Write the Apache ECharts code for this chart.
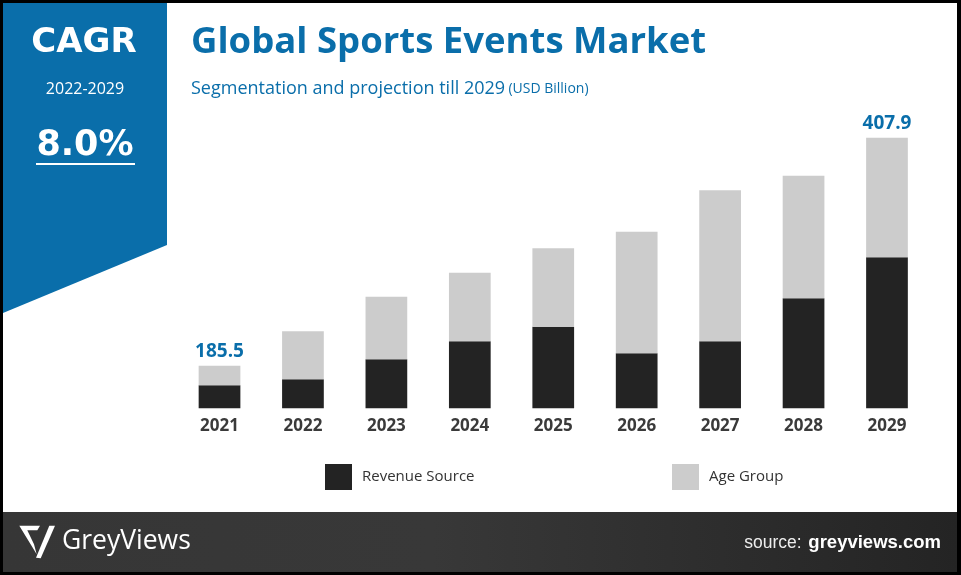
<!DOCTYPE html>
<html>
<head>
<meta charset="utf-8">
<script src="https://cdn.jsdelivr.net/npm/echarts@6/dist/echarts.min.js"></script>
<style>
html,body{margin:0;padding:0;background:#fff;}
#chart{width:961px;height:575px;}
</style>
</head>
<body>
<div id="chart"></div>
<script>
// ---- data ----
const years = ['2021','2022','2023','2024','2025','2026','2027','2028','2029'];
const revenueSource = [166.4, 172.3, 191.8, 209.4, 223.6, 197.6, 209.4, 251.3, 291.3];
const ageGroup      = [19.1, 46.8, 61.1, 66.9, 76.5, 118.6, 147.3, 119.6, 116.6];
const labelledYears = ['2021', '2029'];
const seriesNames = ['Revenue Source', 'Age Group'];
const cagrPeriod = '2022-2029';
const cagrValue = '8.0%';

const BLUE = '#0a6eaa';
const chart = echarts.init(document.getElementById('chart'));

const ageData = ageGroup.map((v, i) =>
  labelledYears.includes(years[i]) ? { value: v, label: { show: true } } : v
);

const logoA = [[19.3,525.7],[40,525.7],[37.3,530.3],[27.3,530.3],[34,544.3],[36.7,554.3]];
const logoB = [[49.3,525.7],[55,525.7],[40.7,558.3],[36,557.7]];

const legendText = { fontFamily: 'Open Sans', fontSize: 15, color: '#333', padding: [2,0,0,5] };

chart.setOption({
  backgroundColor: '#ffffff',
  animation: false,
  grid: { left: 177.8, right: 32.3, top: 125.3, bottom: 166.7 },
  xAxis: {
    type: 'category',
    data: years,
    axisLine: { show: false },
    axisTick: { show: false },
    axisLabel: {
      margin: 9,
      fontFamily: 'Open Sans',
      fontWeight: 'bold',
      fontSize: 17,
      color: '#3a3a3a'
    }
  },
  yAxis: {
    type: 'value',
    min: 144,
    max: 420,
    show: false,
    splitLine: { show: false }
  },
  legend: [
    {
      data: [seriesNames[0]],
      left: 325, top: 464, padding: 0,
      itemWidth: 27, itemHeight: 26,
      icon: 'rect',
      textStyle: legendText
    },
    {
      data: [seriesNames[1]],
      left: 672, top: 464, padding: 0,
      itemWidth: 27, itemHeight: 26,
      icon: 'rect',
      textStyle: legendText
    }
  ],
  series: [
    {
      name: seriesNames[0],
      type: 'bar',
      stack: 'total',
      barWidth: '50%',
      data: revenueSource,
      itemStyle: { color: '#232323' }
    },
    {
      name: seriesNames[1],
      type: 'bar',
      stack: 'total',
      barWidth: '50%',
      data: ageData,
      itemStyle: { color: '#cccccc' },
      label: {
        show: false,
        position: 'top',
        distance: 5,
        fontFamily: 'Open Sans',
        fontWeight: 'bold',
        fontSize: 19,
        color: BLUE,
        formatter: p => (revenueSource[p.dataIndex] + ageGroup[p.dataIndex]).toFixed(1)
      }
    }
  ],
  graphic: [
    // blue CAGR panel
    { type: 'polygon', shape: { points: [[3,3],[167,3],[167,245],[3,313]] }, style: { fill: BLUE }, z: 1 },
    { type: 'text', x: 84, y: 43, style: { text: 'CAGR', fill: '#fff', font: 'bold 34px "DejaVu Sans"', textAlign: 'center', textVerticalAlign: 'middle' }, z: 2 },
    { type: 'text', x: 85, y: 89, style: { text: cagrPeriod, fill: '#fff', font: '16px "Open Sans"', textAlign: 'center', textVerticalAlign: 'middle' }, z: 2 },
    { type: 'text', x: 85, y: 146, style: { text: cagrValue, fill: '#fff', font: 'bold 35px "DejaVu Sans"', textAlign: 'center', textVerticalAlign: 'middle' }, z: 2 },
    { type: 'rect', shape: { x: 36, y: 163, width: 99, height: 2 }, style: { fill: '#fff' }, z: 2 },
    // titles
    { type: 'text', x: 191, y: 43, style: { text: 'Global Sports Events Market', fill: BLUE, font: 'bold 36.5px "Open Sans"', textVerticalAlign: 'middle' }, z: 2 },
    { type: 'text', x: 191, y: 89, style: {
        text: '{a|Segmentation and projection till 2029} {b|(USD Billion)}',
        textVerticalAlign: 'middle',
        rich: {
          a: { fill: BLUE, fontFamily: 'Open Sans', fontSize: 18 },
          b: { fill: BLUE, fontFamily: 'Open Sans', fontSize: 14 }
        }
      }, z: 2 },
    // footer
    { type: 'rect', shape: { x: 3, y: 512, width: 954, height: 60 }, style: {
        fill: new echarts.graphic.LinearGradient(0, 0, 1, 0, [
          { offset: 0, color: '#363636' },
          { offset: 0.45, color: '#383838' },
          { offset: 1, color: '#242424' }
        ])
      }, z: 1 },
    { type: 'polygon', shape: { points: logoA }, style: { fill: '#fff' }, z: 2 },
    { type: 'polygon', shape: { points: logoB }, style: { fill: '#fff' }, z: 2 },
    { type: 'text', x: 62, y: 541, style: { text: 'GreyViews', fill: '#fff', font: '26.5px "Open Sans"', textVerticalAlign: 'middle' }, z: 2 },
    { type: 'text', x: 941, y: 543, style: {
        text: '{a|source:}  {b|greyviews.com}',
        textAlign: 'right',
        textVerticalAlign: 'middle',
        rich: {
          a: { fill: '#eee', fontFamily: 'Liberation Sans', fontSize: 17.5 },
          b: { fill: '#fff', fontFamily: 'Liberation Sans', fontWeight: 'bold', fontSize: 18.5 }
        }
      }, z: 2 },
    // black frame
    { type: 'rect', shape: { x: 0, y: 0, width: 961, height: 3 }, style: { fill: '#000' }, z: 3 },
    { type: 'rect', shape: { x: 0, y: 572, width: 961, height: 3 }, style: { fill: '#000' }, z: 3 },
    { type: 'rect', shape: { x: 0, y: 0, width: 3, height: 575 }, style: { fill: '#000' }, z: 3 },
    { type: 'rect', shape: { x: 957, y: 0, width: 4, height: 575 }, style: { fill: '#000' }, z: 3 }
  ]
});
</script>
</body>
</html>
